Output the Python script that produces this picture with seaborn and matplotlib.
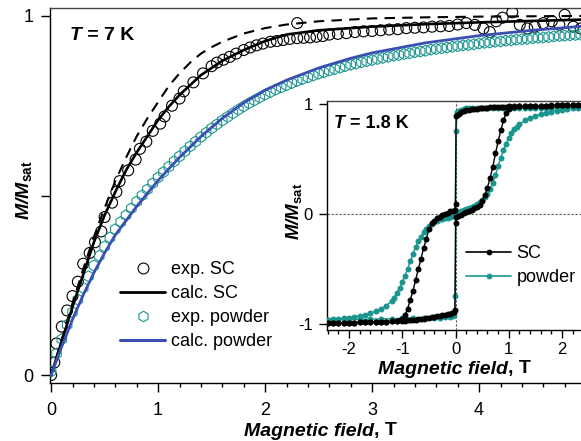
import numpy as np
import pandas as pd
import matplotlib
matplotlib.use("Agg")
import matplotlib.pyplot as plt
import seaborn as sns
from matplotlib.lines import Line2D
from matplotlib.ticker import MultipleLocator
from matplotlib.offsetbox import TextArea, HPacker, AnnotationBbox

# ---------------- data: main panel (T = 7 K) ----------------
sc_exp_x = [0.00, 0.03, 0.05, 0.10, 0.15, 0.20, 0.25, 0.30, 0.36, 0.41, 0.47, 0.50, 0.57, 0.61,
            0.64, 0.72, 0.79, 0.83, 0.89, 0.95, 1.02, 1.06, 1.13, 1.20, 1.24, 1.33, 1.42, 1.50,
            1.55, 1.61, 1.67, 1.73, 1.80, 1.86, 1.92, 1.98, 2.05, 2.11, 2.17, 2.23, 2.30, 2.30,
            2.36, 2.42, 2.48, 2.54, 2.60, 2.68, 2.76, 2.84, 2.92, 3.00, 3.08, 3.16, 3.24, 3.32,
            3.40, 3.48, 3.56, 3.64, 3.72, 3.80, 3.88, 3.96, 4.04, 4.10, 4.16, 4.22, 4.31, 4.38,
            4.45, 4.52, 4.60, 4.68, 4.75, 4.80, 4.88, 4.95, 5.02]
sc_exp_y = [0.000, 0.035, 0.088, 0.135, 0.180, 0.220, 0.260, 0.310, 0.340, 0.370, 0.400, 0.440, 0.480, 0.510,
            0.540, 0.570, 0.600, 0.630, 0.650, 0.680, 0.700, 0.720, 0.750, 0.770, 0.790, 0.815, 0.840, 0.860,
            0.870, 0.878, 0.886, 0.895, 0.905, 0.912, 0.918, 0.923, 0.928, 0.930, 0.933, 0.936, 0.938, 0.980,
            0.939, 0.940, 0.942, 0.944, 0.948, 0.950, 0.952, 0.955, 0.957, 0.958, 0.960, 0.962, 0.963, 0.966,
            0.967, 0.968, 0.970, 0.971, 0.972, 0.976, 0.980, 0.975, 0.965, 0.955, 0.985, 0.995, 1.010, 0.975,
            0.965, 0.970, 0.980, 0.985, 0.975, 1.003, 0.970, 0.965, 0.975]

pw_exp_x = [0.00, 0.05, 0.10, 0.15, 0.20, 0.25, 0.30, 0.35, 0.40, 0.45, 0.50, 0.55, 0.60, 0.65, 0.70,
            0.75, 0.80, 0.85, 0.90, 0.95, 1.00, 1.05, 1.10, 1.15, 1.20, 1.25, 1.30, 1.35, 1.40, 1.45,
            1.50, 1.55, 1.60, 1.65, 1.70, 1.75, 1.80, 1.85, 1.90, 1.95, 2.00, 2.05, 2.10, 2.15, 2.20,
            2.25, 2.30, 2.35, 2.40, 2.45, 2.50, 2.55, 2.60, 2.65, 2.70, 2.75, 2.80, 2.85, 2.90, 2.95,
            3.00, 3.05, 3.10, 3.15, 3.20, 3.25, 3.30, 3.35, 3.40, 3.45, 3.50, 3.55, 3.60, 3.65, 3.70,
            3.75, 3.80, 3.85, 3.90, 3.95, 4.00, 4.05, 4.10, 4.15, 4.20, 4.25, 4.30, 4.35, 4.40, 4.45,
            4.50, 4.55, 4.60, 4.65, 4.70, 4.75, 4.80, 4.85, 4.90, 4.95, 5.00]
pw_exp_y = [0.010, 0.060, 0.100, 0.140, 0.175, 0.210, 0.243, 0.275, 0.305, 0.332, 0.358, 0.383, 0.406, 0.426, 0.445,
            0.464, 0.483, 0.500, 0.517, 0.534, 0.550, 0.565, 0.580, 0.595, 0.609, 0.623, 0.637, 0.650, 0.663, 0.675,
            0.687, 0.698, 0.709, 0.719, 0.729, 0.739, 0.748, 0.757, 0.765, 0.773, 0.781, 0.788, 0.795, 0.801, 0.807,
            0.813, 0.819, 0.824, 0.829, 0.834, 0.839, 0.843, 0.848, 0.852, 0.856, 0.860, 0.864, 0.867, 0.871, 0.874,
            0.877, 0.880, 0.883, 0.886, 0.889, 0.891, 0.894, 0.896, 0.899, 0.901, 0.903, 0.906, 0.908, 0.910, 0.912,
            0.914, 0.916, 0.918, 0.919, 0.921, 0.923, 0.925, 0.926, 0.928, 0.929, 0.931, 0.932, 0.934, 0.935, 0.936,
            0.938, 0.939, 0.940, 0.941, 0.943, 0.944, 0.945, 0.946, 0.947, 0.948, 0.949]

sc_calc_x = [0.0, 0.1, 0.2, 0.3, 0.4, 0.5, 0.6, 0.7, 0.8, 0.9, 1.0, 1.1, 1.2, 1.4, 1.6, 1.8, 2.0, 2.2,
             2.5, 3.0, 3.5, 4.0, 4.5, 5.0, 5.2]
sc_calc_y = [0.000, 0.095, 0.190, 0.280, 0.370, 0.445, 0.510, 0.570, 0.620, 0.665, 0.710, 0.747, 0.780,
             0.835, 0.875, 0.905, 0.930, 0.948, 0.960, 0.970, 0.977, 0.982, 0.986, 0.990, 0.991]

sc_dash_x = [0.0, 0.1, 0.2, 0.3, 0.4, 0.5, 0.6, 0.7, 0.8, 0.9, 1.0, 1.1, 1.2, 1.3, 1.4, 1.5, 1.6, 1.8,
             2.0, 2.2, 2.5, 3.0, 3.5, 4.0, 4.5, 5.0, 5.2]
sc_dash_y = [0.000, 0.100, 0.200, 0.295, 0.385, 0.465, 0.540, 0.605, 0.665, 0.715, 0.760, 0.805, 0.840,
             0.870, 0.895, 0.913, 0.928, 0.951, 0.966, 0.976, 0.985, 0.993, 0.996, 0.998, 0.999, 1.000, 1.000]

pw_calc_x = [0.0, 0.1, 0.2, 0.3, 0.4, 0.5, 0.6, 0.7, 0.8, 0.9, 1.0, 1.2, 1.4, 1.6, 1.8, 2.0, 2.2, 2.5,
             2.8, 3.0, 3.5, 4.0, 4.5, 5.0, 5.2]
pw_calc_y = [0.000, 0.080, 0.155, 0.223, 0.285, 0.340, 0.390, 0.430, 0.470, 0.506, 0.542, 0.606, 0.664,
             0.715, 0.758, 0.793, 0.821, 0.855, 0.882, 0.897, 0.925, 0.945, 0.960, 0.972, 0.976]

# ---------------- data: inset (T = 1.8 K) ----------------
sc_down_x = [2.4, 2.3, 2.2, 2.1, 2.0, 1.9, 1.8, 1.7, 1.6, 1.5, 1.4, 1.3, 1.2, 1.1, 1.0, 0.95, 0.9, 0.85,
             0.8, 0.75, 0.7, 0.65, 0.6, 0.55, 0.5, 0.45, 0.4, 0.35, 0.3, 0.25, 0.2, 0.15, 0.1, 0.06, 0.03,
             0.01, 0.0, -0.01, -0.05, -0.1, -0.15, -0.2, -0.25, -0.3, -0.35, -0.4, -0.45, -0.5, -0.55,
             -0.6, -0.65, -0.7, -0.75, -0.8, -0.85, -0.9, -0.95, -1.0, -1.05, -1.1, -1.2, -1.3, -1.4,
             -1.5, -1.6, -1.7, -1.8, -1.9, -2.0, -2.1, -2.2, -2.3, -2.4]
sc_down_y = [0.990, 0.990, 0.990, 0.990, 0.988, 0.988, 0.987, 0.986, 0.985, 0.984, 0.983, 0.982, 0.980,
             0.979, 0.977, 0.976, 0.975, 0.974, 0.972, 0.971, 0.970, 0.968, 0.966, 0.964, 0.962, 0.960,
             0.957, 0.954, 0.951, 0.947, 0.942, 0.935, 0.925, 0.913, 0.900, 0.890, 0.090, 0.040, 0.030,
             0.025, 0.010, 0.000, -0.010, -0.025, -0.040, -0.060, -0.085, -0.140, -0.230, -0.310, -0.410,
             -0.500, -0.600, -0.700, -0.780, -0.860, -0.920, -0.955, -0.968, -0.973, -0.977, -0.979, -0.981,
             -0.983, -0.984, -0.985, -0.986, -0.987, -0.988, -0.988, -0.990, -0.990, -0.990]

sc_up_x = [-2.4, -2.3, -2.2, -2.1, -2.0, -1.9, -1.8, -1.7, -1.6, -1.5, -1.4, -1.3, -1.2, -1.1, -1.0,
           -0.95, -0.9, -0.85, -0.8, -0.75, -0.7, -0.65, -0.6, -0.55, -0.5, -0.45, -0.4, -0.35, -0.3,
           -0.25, -0.2, -0.15, -0.1, -0.06, -0.03, -0.01, 0.0, 0.01, 0.05, 0.1, 0.15, 0.2, 0.25, 0.3,
           0.35, 0.4, 0.45, 0.5, 0.55, 0.6, 0.65, 0.7, 0.75, 0.8, 0.85, 0.9, 0.95, 1.0, 1.05, 1.1, 1.2,
           1.3, 1.4, 1.5, 1.6, 1.7, 1.8, 1.9, 2.0, 2.1, 2.2, 2.3, 2.4]
sc_up_y = [-0.990, -0.990, -0.990, -0.988, -0.988, -0.987, -0.986, -0.985, -0.984, -0.983, -0.981, -0.979,
           -0.977, -0.974, -0.972, -0.970, -0.968, -0.965, -0.962, -0.960, -0.957, -0.954, -0.951, -0.948,
           -0.944, -0.940, -0.936, -0.932, -0.928, -0.923, -0.918, -0.912, -0.905, -0.898, -0.890, -0.875,
           -0.080, -0.030, -0.015, -0.005, 0.005, 0.015, 0.025, 0.035, 0.050, 0.065, 0.085, 0.120, 0.170,
           0.240, 0.330, 0.430, 0.550, 0.660, 0.760, 0.850, 0.920, 0.955, 0.968, 0.974, 0.978, 0.980,
           0.982, 0.983, 0.984, 0.985, 0.986, 0.987, 0.988, 0.988, 0.989, 0.990, 0.990]

pw_down_x = [2.4, 2.3, 2.2, 2.1, 2.0, 1.9, 1.8, 1.7, 1.6, 1.5, 1.4, 1.3, 1.2, 1.1, 1.0, 0.9, 0.8, 0.7,
             0.6, 0.5, 0.4, 0.3, 0.25, 0.2, 0.15, 0.1, 0.06, 0.03, 0.01, -0.01, -0.05, -0.1, -0.15, -0.2,
             -0.25, -0.3, -0.35, -0.4, -0.45, -0.5, -0.55, -0.6, -0.65, -0.7, -0.75, -0.8, -0.85, -0.9,
             -0.95, -1.0, -1.05, -1.1, -1.15, -1.2, -1.3, -1.4, -1.5, -1.6, -1.7, -1.8, -1.9, -2.0, -2.1,
             -2.2, -2.3, -2.4]
pw_down_y = [0.970, 0.970, 0.969, 0.968, 0.967, 0.966, 0.965, 0.964, 0.963, 0.962, 0.961, 0.960, 0.960,
             0.960, 0.960, 0.962, 0.963, 0.964, 0.965, 0.966, 0.966, 0.965, 0.963, 0.960, 0.955, 0.948,
             0.940, 0.925, 0.750, 0.000, -0.020, -0.030, -0.035, -0.040, -0.045, -0.050, -0.060, -0.075,
             -0.090, -0.110, -0.135, -0.165, -0.205, -0.250, -0.300, -0.360, -0.430, -0.500, -0.560,
             -0.620, -0.670, -0.720, -0.760, -0.790, -0.835, -0.865, -0.885, -0.900, -0.915, -0.925,
             -0.935, -0.942, -0.948, -0.952, -0.956, -0.960]

pw_up_x = [-2.4, -2.2, -2.0, -1.8, -1.6, -1.4, -1.2, -1.0, -0.8, -0.6, -0.4, -0.3, -0.2, -0.1, -0.05,
           -0.02, -0.01, 0.01, 0.05, 0.1, 0.15, 0.2, 0.25, 0.3, 0.35, 0.4, 0.45, 0.5, 0.55, 0.6, 0.65,
           0.7, 0.75, 0.8, 0.85, 0.9, 0.95, 1.0, 1.05, 1.1, 1.15, 1.2, 1.3, 1.4, 1.5, 1.6, 1.7, 1.8, 1.9,
           2.0, 2.1, 2.2, 2.3, 2.4]
pw_up_y = [-0.965, -0.963, -0.960, -0.958, -0.956, -0.954, -0.952, -0.950, -0.948, -0.946, -0.944,
           -0.942, -0.940, -0.935, -0.930, -0.920, -0.750, 0.000, 0.020, 0.030, 0.037, 0.045, 0.052,
           0.062, 0.075, 0.092, 0.110, 0.130, 0.155, 0.185, 0.230, 0.285, 0.355, 0.435, 0.510, 0.580,
           0.640, 0.690, 0.735, 0.770, 0.795, 0.815, 0.850, 0.870, 0.890, 0.905, 0.918, 0.930, 0.940,
           0.948, 0.955, 0.960, 0.963, 0.966]

main_xticks = [0, 1, 2, 3, 4]
main_yticks = [0, 0.5, 1]
main_yticklabels = ["0", "", "1"]
inset_xticks = [-2, -1, 0, 1, 2]
inset_yticks = [-1, 0, 1]

# ---------------- style ----------------
sns.set_theme(style="ticks")
plt.rcParams.update({
    "font.family": ["Liberation Sans", "DejaVu Sans"],
    "mathtext.fontset": "custom",
    "mathtext.rm": "Liberation Sans",
    "mathtext.it": "Liberation Sans:italic",
    "mathtext.bf": "Liberation Sans:bold",
    "mathtext.bfit": "Liberation Sans:italic:bold",
    "axes.unicode_minus": False,
    "axes.edgecolor": "black",
    "axes.linewidth": 1.0,
    "xtick.color": "black",
    "ytick.color": "black",
    "text.color": "black",
})

TEAL = "#1b968f"
BLUE = "#3b4fb3"
W, H = 581, 441
fig = plt.figure(figsize=(W / 100, H / 100), dpi=100)
fig.patch.set_facecolor("white")

# main axes (extends beyond the right edge like the cropped original)
ax = fig.add_axes([49.5 / W, 58 / H, 558 / W, 375 / H])
ax.set_facecolor("white")

sns.scatterplot(x=sc_exp_x, y=sc_exp_y, ax=ax, marker="o", s=62, color="black", linewidth=0.8, zorder=3)
ax.collections[-1].set_facecolor("none")
ax.collections[-1].set_edgecolor("black")
sns.scatterplot(x=pw_exp_x, y=pw_exp_y, ax=ax, marker="h", s=62, color=TEAL, linewidth=0.8, zorder=3)
ax.collections[-1].set_facecolor("none")
ax.collections[-1].set_edgecolor(TEAL)

sns.lineplot(x=sc_dash_x, y=sc_dash_y, ax=ax, color="black", lw=1.5, linestyle=(0, (5, 3.5)),
             sort=False, estimator=None, zorder=4)
sns.lineplot(x=sc_calc_x, y=sc_calc_y, ax=ax, color="black", lw=1.9, sort=False, estimator=None, zorder=4)
sns.lineplot(x=pw_calc_x, y=pw_calc_y, ax=ax, color=BLUE, lw=2.0, sort=False, estimator=None, zorder=4)

ax.set_xlim(-0.015, 5.2)
ax.set_ylim(-0.022, 1.022)
ax.set_xticks(main_xticks)
ax.xaxis.set_minor_locator(MultipleLocator(0.2))
ax.set_yticks(main_yticks)
ax.set_yticklabels(main_yticklabels)
ax.tick_params(axis="both", which="major", direction="out", length=6.5, width=1.0, labelsize=13, pad=5)
ax.tick_params(axis="x", which="minor", direction="out", length=3, width=1.0)
ax.tick_params(axis="x", which="major", pad=7)
ax.spines["right"].set_visible(False)
ax.spines["top"].set_color("#444444")
ax.set_xlabel("")
ax.set_ylabel("")

h1 = Line2D([], [], ls="none", marker="o", ms=7.8, mfc="none", mec="black", mew=0.8)
h2 = Line2D([], [], color="black", lw=2.0)
h3 = Line2D([], [], ls="none", marker="h", ms=7.6, mfc="none", mec=TEAL, mew=0.8)
h4 = Line2D([], [], color=BLUE, lw=2.2)
ax.legend([h1, h2, h3, h4], ["exp. SC", "calc. SC", "exp. powder", "calc. powder"],
          loc="upper left", bbox_to_anchor=(120 / W, 1 - 261 / H), bbox_transform=fig.transFigure,
          frameon=False, fontsize=13, handlelength=2.5, handletextpad=0.35, labelspacing=0.39,
          borderpad=0, borderaxespad=0)

# inset
axi = fig.add_axes([326.7 / W, 111 / H, 257.7 / W, 229 / H])
axi.set_facecolor("white")
axi.set_zorder(5)
axi.axhline(0, color="#555555", lw=0.8, ls=(0, (2, 1.6)), zorder=1)
axi.axvline(0, color="#555555", lw=0.8, ls=(0, (2, 1.6)), zorder=1)
for bx, by, col in [(pw_down_x, pw_down_y, TEAL), (pw_up_x, pw_up_y, TEAL),
                    (sc_down_x, sc_down_y, "black"), (sc_up_x, sc_up_y, "black")]:
    sns.lineplot(x=bx, y=by, ax=axi, color=col, lw=1.0, marker="o", markersize=4.3,
                 markeredgewidth=0, sort=False, estimator=None, zorder=3)
axi.set_xlim(-2.42, 2.42)
axi.set_ylim(-1.055, 1.027)
axi.set_xticks(inset_xticks)
axi.xaxis.set_minor_locator(MultipleLocator(0.2))
axi.set_yticks(inset_yticks)
axi.tick_params(axis="both", which="major", direction="out", length=6, width=1.0, labelsize=12, pad=4)
axi.tick_params(axis="x", which="minor", direction="out", length=3, width=1.0)
axi.tick_params(axis="x", which="major", pad=3)
axi.spines["right"].set_visible(False)
axi.spines["top"].set_color("#444444")
axi.set_xlabel("")
axi.set_ylabel("")
hl1 = Line2D([], [], color="black", lw=1.2, marker="o", ms=4.2, mew=0)
hl2 = Line2D([], [], color=TEAL, lw=1.2, marker="o", ms=4.2, mew=0)
axi.legend([hl1, hl2], ["SC", "powder"], loc="upper left", bbox_to_anchor=(466 / W, 1 - 245 / H),
           bbox_transform=fig.transFigure, frameon=False, fontsize=13, handlelength=2.5,
           handletextpad=0.3, labelspacing=0.39, borderpad=0, borderaxespad=0, numpoints=1)


def rich(parts, xy_px, fontsize, box_x=0.5, zorder=10):
    boxes = [TextArea(t, textprops=dict(fontsize=fontsize, fontweight="bold", fontstyle=st,
                                        color="black", family="Liberation Sans"))
             for t, st in parts]
    pack = HPacker(children=boxes, align="baseline", pad=0, sep=0)
    ab = AnnotationBbox(pack, (xy_px[0], H - xy_px[1]), xycoords="figure pixels", frameon=False,
                        box_alignment=(box_x, 0.5), pad=0, zorder=zorder)
    fig.add_artist(ab)


rich([("Magnetic field", "italic"), (", T", "normal")], (320, 431), 14)
rich([("Magnetic field", "italic"), (", T", "normal")], (454, 369), 14)
rich([("T", "italic"), (" = 7 K", "normal")], (70, 36), 14, box_x=0.0)
rich([("T", "italic"), (" = 1.8 K", "normal")], (334, 124), 13, box_x=0.0)

fig.text(24 / W, 1 - 190 / H, r"$\mathbfit{M/M}_{\mathbf{sat}}$", rotation=90, ha="center",
         va="center", fontsize=14)
fig.text(294 / W, 1 - 211 / H, r"$\mathbfit{M/M}_{\mathbf{sat}}$", rotation=90, ha="center",
         va="center", fontsize=13.5, zorder=10)

fig.savefig("out.png", dpi=100, facecolor="white")
